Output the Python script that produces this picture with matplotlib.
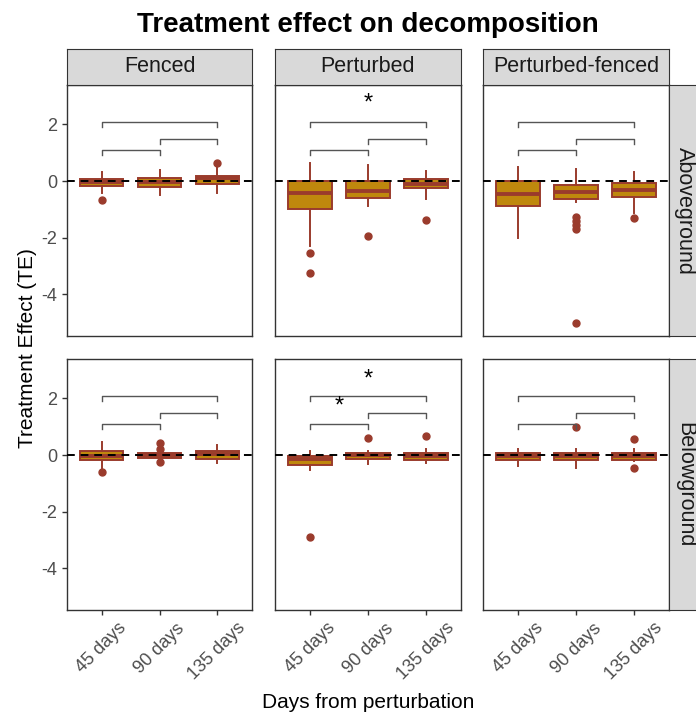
import numpy as np
import matplotlib
matplotlib.use("Agg")
import matplotlib.pyplot as plt

plt.rcParams["font.family"] = ["Liberation Sans", "DejaVu Sans"]
plt.rcParams["axes.unicode_minus"] = False

# categories
days = ["45 days", "90 days", "135 days"]
treatments = ["Fenced", "Perturbed", "Perturbed-fenced"]
layers = ["Aboveground", "Belowground"]

# box stats: [layer][treatment][day]
q1 = [[[-0.18, -0.20, -0.12], [-1.00, -0.61, -0.26], [-0.88, -0.63, -0.56]],
      [[-0.18, -0.09, -0.15], [-0.35, -0.14, -0.16], [-0.18, -0.18, -0.18]]]
med = [[[-0.02, -0.02, 0.10], [-0.41, -0.34, -0.11], [-0.44, -0.39, -0.32]],
       [[-0.05, 0.00, 0.02], [-0.15, 0.00, -0.02], [-0.02, -0.02, -0.02]]]
q3 = [[[0.08, 0.10, 0.19], [0.01, -0.01, 0.07], [0.01, -0.14, -0.07]],
      [[0.13, 0.06, 0.13], [-0.02, 0.07, 0.07], [0.06, 0.08, 0.08]]]
whis_lo = [[[-0.42, -0.50, -0.42], [-2.29, -0.87, -0.65], [-2.02, -0.75, -1.13]],
           [[-0.47, -0.12, -0.29], [-0.54, -0.33, -0.27], [-0.40, -0.47, -0.22]]]
whis_hi = [[[0.32, 0.39, 0.49], [0.62, 0.58, 0.36], [0.48, 0.41, 0.31]],
           [[0.47, 0.10, 0.35], [0.13, 0.15, 0.23], [0.23, 0.23, 0.20]]]
outliers = [[[[-0.67], [], [0.62]],
             [[-2.55, -3.24], [-1.93], [-1.37]],
             [[], [-1.28, -1.42, -1.56, -1.71, -5.0], [-1.31]]],
            [[[-0.59], [0.43, 0.20, -0.25], []],
             [[-2.88], [0.60], [0.67]],
             [[], [1.00], [0.58, -0.45]]]]

# significance brackets (same in every panel) and stars
bracket_pairs = [(1, 2), (2, 3), (1, 3)]
bracket_y = [1.10, 1.49, 2.09]
# stars: (layer, treatment, x, y)
stars = [(0, 1, 2.0, 2.72), (1, 1, 2.0, 2.68), (1, 1, 1.5, 1.70)]

W, H = 696, 715
fig = plt.figure(figsize=(W / 100, H / 100), dpi=100)

def px_axes(x0, y0, x1, y1):
    return fig.add_axes([x0 / W, 1 - y1 / H, (x1 - x0) / W, (y1 - y0) / H])

cols = [(67, 252), (275, 461), (483, 669)]
rows = [(85, 336), (359, 610)]

fill = "#BF880D"
edge = "#9A3B2C"
grey = "#4D4D4D"

for r, layer in enumerate(layers):
    for c, trt in enumerate(treatments):
        ax = px_axes(cols[c][0], rows[r][0], cols[c][1], rows[r][1])
        stats = []
        for d in range(3):
            stats.append(dict(q1=q1[r][c][d], med=med[r][c][d], q3=q3[r][c][d],
                              whislo=whis_lo[r][c][d], whishi=whis_hi[r][c][d],
                              fliers=outliers[r][c][d]))
        ax.bxp(stats, positions=[1, 2, 3], widths=0.75, patch_artist=True,
               showcaps=False,
               boxprops=dict(facecolor=fill, edgecolor=edge, linewidth=1.4),
               medianprops=dict(color=edge, linewidth=2.8),
               whiskerprops=dict(color=edge, linewidth=1.4),
               flierprops=dict(marker="o", markerfacecolor=edge,
                               markeredgecolor=edge, markersize=5))
        ax.axhline(0, color="black", lw=1.4, ls=(0, (4, 3)), zorder=5)
        for (a, b), yb in zip(bracket_pairs, bracket_y):
            ax.plot([a, a, b, b], [yb - 0.17, yb, yb, yb - 0.17],
                    color="#555555", lw=1.0)
        for (lr, lc, sx, sy) in stars:
            if lr == r and lc == c:
                ax.text(sx, sy, "*", ha="center", va="center", fontsize=17)
        ax.set_xlim(0.4, 3.6)
        ax.set_ylim(-5.47, 3.39)
        ax.set_yticks([2, 0, -2, -4])
        ax.set_xticks([1, 2, 3])
        ax.tick_params(length=3.5, color="#333333", labelcolor=grey,
                       labelsize=13, width=1)
        if c == 0:
            ax.set_yticklabels(["2", "0", "-2", "-4"])
        else:
            ax.set_yticklabels([])
            ax.tick_params(axis="y", length=0)
        if r == 1:
            ax.set_xticklabels(days, rotation=45, ha="center", va="top")
            for lbl in ax.get_xticklabels():
                lbl.set_x(lbl.get_position()[0])
        else:
            ax.set_xticklabels([])
            ax.tick_params(axis="x", length=0)
        for s in ax.spines.values():
            s.set_color("#333333")
            s.set_linewidth(1.0)

        if r == 0:
            st = px_axes(cols[c][0], 49, cols[c][1], 85)
            st.set_facecolor("#D9D9D9")
            st.set_xticks([])
            st.set_yticks([])
            for s in st.spines.values():
                s.set_color("#333333")
            st.text(0.5, 0.5, trt, ha="center", va="center", fontsize=15.5,
                    color="#1A1A1A", transform=st.transAxes)
    rs = px_axes(669, rows[r][0], 700, rows[r][1])
    rs.set_facecolor("#D9D9D9")
    rs.set_xticks([])
    rs.set_yticks([])
    for s in rs.spines.values():
        s.set_color("#333333")
    rs.text(0.5, 0.5, layer, ha="center", va="center", rotation=-90,
            fontsize=15.5, color="#1A1A1A", transform=rs.transAxes)

fig.text(368 / W, 1 - 25 / H, "Treatment effect on decomposition",
         ha="center", va="center", fontsize=20, fontweight="bold")
fig.text(368 / W, 1 - 703 / H, "Days from perturbation",
         ha="center", va="center", fontsize=15)
fig.text(28 / W, 1 - 348 / H, "Treatment Effect (TE)",
         ha="center", va="center", rotation=90, fontsize=15)

fig.savefig("out.png", dpi=100)
